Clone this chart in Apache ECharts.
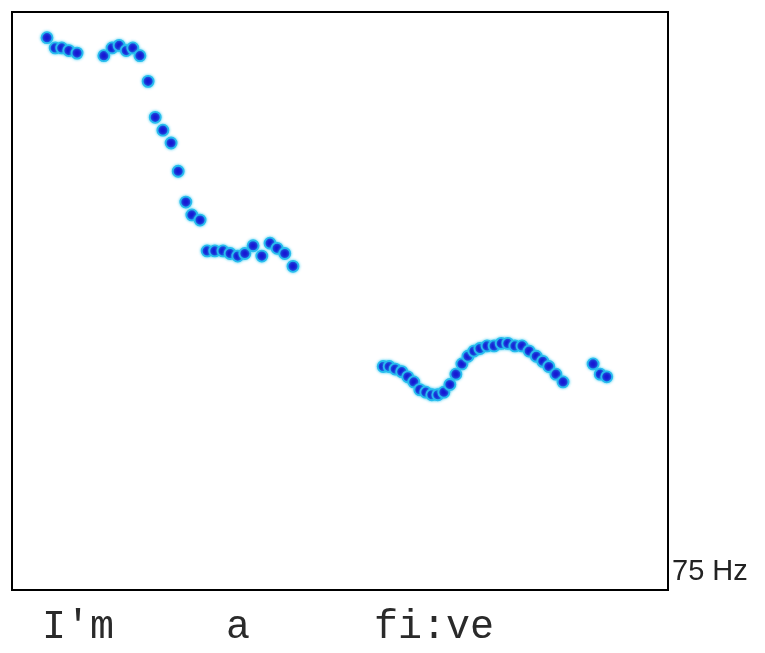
<!DOCTYPE html>
<html>
<head>
<meta charset="utf-8">
<script src="https://cdn.jsdelivr.net/npm/echarts@6/dist/echarts.min.js"></script>
<style>
  html, body { margin: 0; padding: 0; background: #fff; }
  #chart { width: 765px; height: 653px; }
</style>
</head>
<body>
<div id="chart"></div>
<script>
// pitch track, time in ms, pitch in Hz
var timeMs = [
    64, 79, 91, 104, 119, 168, 183, 196, 209, 221, 234, 249, 262, 276, 291, 304, 318, 329, 344,
    357, 371, 386, 399, 413, 426, 441, 457, 472, 485, 499, 514,
    679, 690, 701, 713, 724, 735, 746, 757, 768, 779, 790, 801, 812, 823, 834, 845, 856, 869,
    882, 895, 907, 920, 933, 946, 959, 971, 982, 995, 1008,
    1063, 1076, 1088
];
var pitchHz = [
    290, 286, 286, 285, 284, 283, 286, 287, 285, 286, 283, 273, 259, 254, 249, 238, 226, 221, 219,
    207, 207, 207, 206, 205, 206, 209, 205, 210, 208, 206, 201,
    162, 162, 161, 160, 158, 156, 153, 152, 151, 151, 152, 155, 159, 163, 166, 168, 169, 170,
    170, 171, 171, 170, 170, 168, 166, 164, 162, 159, 156,
    163, 159, 158
];
var words = ["I'm", 'a', 'fi:ve'];
var wordX = [42, 226, 374];
var floorLabel = '75 Hz';

var points = timeMs.map(function (t, i) {
    return [t, pitchHz[i]];
});

var chart = echarts.init(document.getElementById('chart'));

var option = {
    animation: false,
    grid: {
        left: 12,
        top: 12,
        width: 656,
        height: 578,
        show: true,
        borderColor: '#000',
        borderWidth: 2,
        backgroundColor: '#fff'
    },
    xAxis: {
        type: 'value',
        min: 0,
        max: 1200,
        show: false
    },
    yAxis: {
        type: 'value',
        min: 75,
        max: 300,
        show: false
    },
    series: [{
        type: 'scatter',
        data: points,
        symbol: 'circle',
        symbolSize: 11,
        itemStyle: {
            color: '#1818d4',
            borderColor: '#28bcee',
            borderWidth: 1.8,
            shadowBlur: 3,
            shadowColor: 'rgba(40,200,240,0.8)',
            opacity: 1
        }
    }],
    graphic: [{
        type: 'text',
        left: 672,
        top: 557,
        style: {
            text: floorLabel,
            font: '29px "Liberation Sans", Arial, sans-serif',
            fill: '#222'
        }
    }].concat(words.map(function (w, i) {
        return {
            type: 'text',
            left: wordX[i],
            top: 607,
            style: {
                text: w,
                font: '40px "Liberation Mono", "Courier New", monospace',
                fill: '#2a2a2a'
            }
        };
    }))
};

chart.setOption(option);
</script>
</body>
</html>
